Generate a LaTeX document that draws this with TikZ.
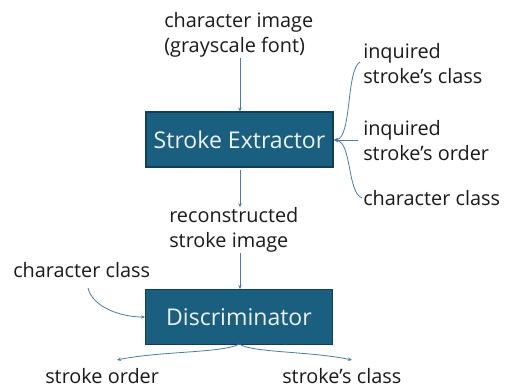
\documentclass[tikz,border=0pt]{standalone}
\usepackage{fontspec}
\setmainfont{Open Sans}
\usetikzlibrary{arrows.meta}
\definecolor{boxfill}{HTML}{1A5E80}
\definecolor{boxline}{HTML}{123F58}
\definecolor{conn}{HTML}{4A7EA0}
\definecolor{txt}{HTML}{1A1A1A}
\begin{document}
\begin{tikzpicture}[x=0.75pt,y=-0.75pt,
  lbl/.style={inner sep=0pt, text=txt, font={\fontsize{14.9}{18.75}\selectfont}, align=left},
  blk/.style={draw=boxline, line width=0.8pt, fill=boxfill, text=white!92!boxfill, inner sep=0pt,
    minimum width=187*0.75pt, minimum height=55*0.75pt, font={\fontsize{17.3}{20}\selectfont}},
  con/.style={draw=conn, line width=0.6pt, -{Stealth[length=3pt,width=2.6pt]}}]
\useasboundingbox (0,0) rectangle (512,387);
\fill[white] (0,0) rectangle (512,387);
% blocks
\node[blk] (ext) at (239.5,139.5) {Stroke Extractor};
\node[blk] (dis) at (239,317) {Discriminator};
% labels
\node[lbl, anchor=west] (img) at (164,35) {character image\\(grayscale font)};
\node[lbl, anchor=west] (cls) at (363,64) {inquired\\stroke’s class};
\node[lbl, anchor=west] (ord) at (363,141) {inquired\\stroke’s order};
\node[lbl, anchor=base west] (cc1) at (363,205) {character class};
\node[lbl, anchor=west] (rec) at (169,230) {reconstructed\\stroke image};
\node[lbl, anchor=base west] (cc2) at (13,277) {character class};
\node[lbl, anchor=base west] (so) at (45,383) {stroke order};
\node[lbl, anchor=base west] (sc) at (282,383) {stroke’s class};
% free ends
\coordinate (a1) at (240,58);
\coordinate (a2) at (240,170);
\coordinate (a3) at (240,253);
\coordinate (r1) at (360,62);
\coordinate (r2) at (358,140);
\coordinate (r3) at (362,198);
\coordinate (rin) at (334,140);
\coordinate (l1) at (88,288);
\coordinate (b0) at (239,344);
\coordinate (b1) at (117,360);
\coordinate (b2) at (352,360);
% connectors
\draw[con] (a1) -- (ext.north -| a1);
\draw[con] (a2) -- (rec.north -| a2);
\draw[con] (a3) -- (dis.north -| a3);
\draw[con] (r1) .. controls (346,70) and (352,138) .. (rin);
\draw[con] (r2) -- (rin);
\draw[con] (r3) .. controls (347,192) and (352,142) .. (rin);
\draw[con] (l1) .. controls (93,308) and (122,317) .. (dis.west);
\draw[con] (b0) .. controls (225,353) and (160,351) .. (b1);
\draw[con] (b0) .. controls (253,353) and (310,351) .. (b2);
\end{tikzpicture}
\end{document}
